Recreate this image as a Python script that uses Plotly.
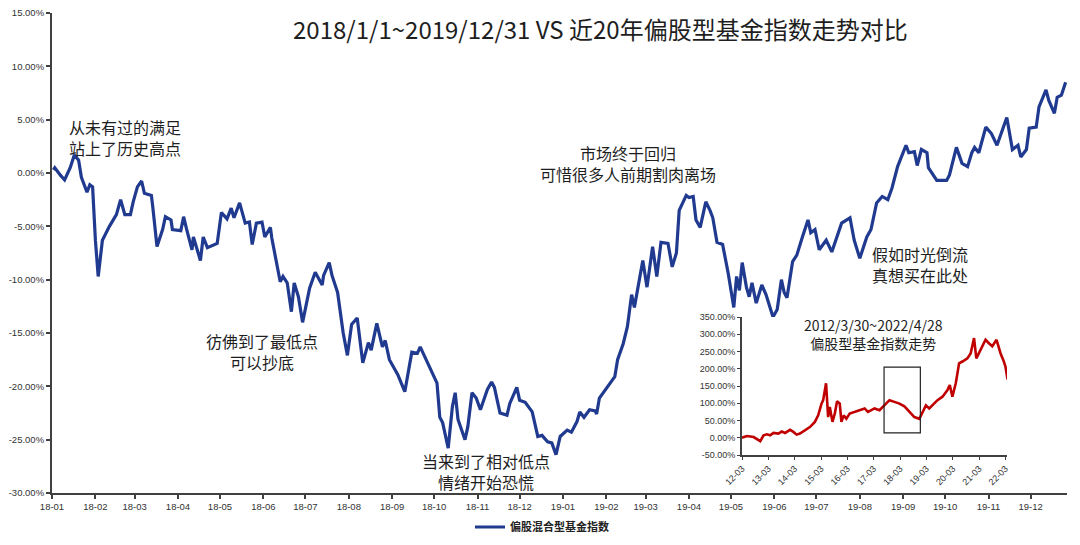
import plotly.graph_objects as go
import pandas as pd

# ---------------- data ----------------
main_dates = [
    "2018-01-02", "2018-01-03", "2018-01-07", "2018-01-10", "2018-01-14", "2018-01-17", "2018-01-20",
    "2018-01-22", "2018-01-26", "2018-01-28", "2018-01-30", "2018-02-01", "2018-02-03", "2018-02-06",
    "2018-02-11", "2018-02-16", "2018-02-19", "2018-02-22", "2018-02-26", "2018-02-28", "2018-03-03",
    "2018-03-06", "2018-03-08", "2018-03-13", "2018-03-14", "2018-03-17", "2018-03-21", "2018-03-23",
    "2018-03-27", "2018-03-28", "2018-04-03", "2018-04-05", "2018-04-07", "2018-04-11", "2018-04-12",
    "2018-04-17", "2018-04-19", "2018-04-22", "2018-04-29", "2018-05-02", "2018-05-06", "2018-05-09",
    "2018-05-11", "2018-05-15", "2018-05-19", "2018-05-22", "2018-05-24", "2018-05-27", "2018-05-31",
    "2018-06-02", "2018-06-06", "2018-06-07", "2018-06-13", "2018-06-15", "2018-06-18", "2018-06-21",
    "2018-06-23", "2018-06-26", "2018-06-29", "2018-07-03", "2018-07-04", "2018-07-08", "2018-07-13",
    "2018-07-14", "2018-07-18", "2018-07-20", "2018-07-24", "2018-07-28", "2018-07-31", "2018-08-03",
    "2018-08-07", "2018-08-11", "2018-08-15", "2018-08-17", "2018-08-21", "2018-08-25", "2018-08-27",
    "2018-08-30", "2018-09-05", "2018-09-10", "2018-09-15", "2018-09-19", "2018-09-21", "2018-10-03",
    "2018-10-05", "2018-10-07", "2018-10-11", "2018-10-14", "2018-10-16", "2018-10-18", "2018-10-23",
    "2018-10-25", "2018-10-28", "2018-10-31", "2018-11-03", "2018-11-08", "2018-11-11", "2018-11-13",
    "2018-11-17", "2018-11-22", "2018-11-24", "2018-11-29", "2018-12-01", "2018-12-05", "2018-12-10",
    "2018-12-14", "2018-12-17", "2018-12-21", "2018-12-24", "2018-12-27", "2018-12-30", "2019-01-04",
    "2019-01-07", "2019-01-11", "2019-01-13", "2019-01-16", "2019-01-20", "2019-01-24", "2019-01-25",
    "2019-01-27", "2019-02-03", "2019-02-07", "2019-02-09", "2019-02-13", "2019-02-16", "2019-02-19",
    "2019-02-21", "2019-02-23", "2019-02-27", "2019-03-02", "2019-03-04", "2019-03-06", "2019-03-09",
    "2019-03-12", "2019-03-17", "2019-03-20", "2019-03-23", "2019-03-25", "2019-03-30", "2019-04-01",
    "2019-04-04", "2019-04-06", "2019-04-09", "2019-04-13", "2019-04-16", "2019-04-18", "2019-04-21",
    "2019-04-25", "2019-04-29", "2019-05-01", "2019-05-03", "2019-05-05", "2019-05-07", "2019-05-09",
    "2019-05-12", "2019-05-14", "2019-05-16", "2019-05-19", "2019-05-23", "2019-05-26", "2019-05-31",
    "2019-06-03", "2019-06-06", "2019-06-08", "2019-06-10", "2019-06-14", "2019-06-17", "2019-06-21",
    "2019-06-25", "2019-06-27", "2019-06-30", "2019-07-03", "2019-07-08", "2019-07-12", "2019-07-19",
    "2019-07-25", "2019-07-28", "2019-08-01", "2019-08-06", "2019-08-09", "2019-08-13", "2019-08-17",
    "2019-08-21", "2019-08-24", "2019-08-28", "2019-09-03", "2019-09-05", "2019-09-09", "2019-09-11",
    "2019-09-14", "2019-09-18", "2019-09-19", "2019-09-25", "2019-10-02", "2019-10-04", "2019-10-09",
    "2019-10-13", "2019-10-17", "2019-10-20", "2019-10-22", "2019-10-25", "2019-10-30", "2019-11-03",
    "2019-11-07", "2019-11-10", "2019-11-14", "2019-11-18", "2019-11-22", "2019-11-24", "2019-11-28",
    "2019-11-30", "2019-12-05", "2019-12-07", "2019-12-12", "2019-12-14", "2019-12-18", "2019-12-20",
    "2019-12-23", "2019-12-26",
]
main_values = [  # percent
    0.3, 0.5, -0.2, -0.65, 0.5, 1.7, 1.2,
    -0.4, -1.8, -1.1, -1.3, -6.3, -9.7, -6.3,
    -5.0, -3.9, -2.5, -3.9, -3.9, -2.7, -1.3,
    -0.75, -1.9, -2.1, -3.2, -6.9, -5.3, -4.1,
    -4.4, -5.3, -5.4, -4.1, -5.2, -7.2, -6.0,
    -8.2, -6.0, -7.0, -6.6, -3.7, -4.3, -3.3,
    -4.2, -2.8, -4.7, -4.6, -6.7, -4.7, -4.6,
    -6.0, -5.1, -6.1, -10.2, -9.7, -10.3, -13.0,
    -10.3, -11.6, -14.0, -11.2, -10.8, -9.3, -10.5,
    -9.6, -8.4, -9.6, -11.2, -15.0, -17.1, -14.2,
    -13.6, -17.8, -15.9, -16.6, -14.1, -16.3, -15.7,
    -17.5, -18.9, -20.5, -16.8, -16.9, -16.3, -19.7,
    -22.9, -23.4, -25.8, -21.9, -20.6, -23.1, -25.0,
    -23.8, -20.6, -21.1, -22.2, -20.3, -19.6, -20.1,
    -22.5, -22.7, -21.6, -20.1, -21.3, -21.5, -22.4,
    -24.7, -24.6, -25.2, -25.3, -26.4, -24.7, -24.1,
    -24.3, -23.3, -22.4, -22.9, -22.2, -22.3, -22.6,
    -21.1, -19.9, -19.1, -17.5, -16.0, -14.4, -11.4,
    -12.6, -11.2, -8.2, -10.7, -8.8, -6.9, -9.7,
    -6.5, -6.6, -8.8, -7.5, -3.5, -2.1, -2.3,
    -2.2, -4.4, -5.1, -2.7, -3.5, -4.2, -6.5,
    -6.7, -9.4, -11.2, -12.6, -9.7, -11.0, -8.4,
    -10.7, -11.6, -10.3, -12.2, -10.5, -11.4, -13.5,
    -12.8, -10.0, -11.2, -11.7, -8.3, -7.7, -6.0,
    -4.4, -5.6, -5.3, -7.2, -6.3, -7.4, -4.7,
    -4.2, -6.3, -8.0, -6.0, -5.3, -2.8, -2.2,
    -2.5, -1.4, 0.6, 2.6, 1.9, 2.0, 0.7,
    2.2, 1.9, 0.5, -0.7, -0.7, -0.2, 2.4,
    0.9, 0.6, 1.9, 2.4, 1.9, 4.3, 3.7,
    2.6, 3.8, 5.2, 2.2, 2.6, 1.5, 2.2,
    4.2, 4.3, 6.2, 7.8, 6.8, 5.6, 7.1,
    7.3, 8.5,
]

inset_dates = [
    "2012-03-30", "2012-06-07", "2012-09-07", "2012-11-15", "2012-12-08", "2013-01-23", "2013-03-10",
    "2013-04-24", "2013-06-09", "2013-08-17", "2013-10-02", "2013-11-17", "2014-01-25", "2014-03-12",
    "2014-04-26", "2014-06-11", "2014-08-19", "2014-10-27", "2015-01-04", "2015-02-19", "2015-04-06",
    "2015-04-29", "2015-06-08", "2015-06-23", "2015-07-07", "2015-07-30", "2015-09-05", "2015-10-07",
    "2015-11-08", "2015-12-15", "2016-01-07", "2016-02-08", "2016-03-15", "2016-05-01", "2016-07-09",
    "2016-09-16", "2016-11-24", "2017-01-09", "2017-02-24", "2017-04-10", "2017-06-18", "2017-08-26",
    "2017-11-03", "2018-01-11", "2018-03-21", "2018-05-29", "2018-08-06", "2018-10-14", "2018-12-22",
    "2019-02-05", "2019-03-23", "2019-05-08", "2019-06-23", "2019-08-31", "2019-11-08", "2020-01-16",
    "2020-02-17", "2020-03-24", "2020-05-10", "2020-06-25", "2020-08-10", "2020-10-18", "2020-12-03",
    "2021-01-18", "2021-02-19", "2021-04-20", "2021-06-27", "2021-08-12", "2021-09-28", "2021-11-26",
    "2022-01-20", "2022-03-07", "2022-03-30", "2022-04-28",
]
inset_values = [  # percent
    0.2, 5, 2, -6, -10, 7, 10,
    7, 14, 12, 18, 14, 23, 17,
    9, 12, 21, 31, 46, 65, 99,
    109, 158, 80, 60, 89, 46, 70,
    106, 99, 46, 65, 55, 70, 75,
    80, 85, 75, 80, 85, 80, 94,
    109, 104, 99, 91, 75, 60, 55,
    75, 94, 85, 94, 109, 119, 138,
    153, 119, 158, 216, 221, 230, 245,
    289, 230, 255, 284, 274, 265, 284,
    245, 221, 206, 169,
]

series_name = "偏股混合型基金指数"
title_text = "2018/1/1~2019/12/31 VS 近20年偏股型基金指数走势对比"
inset_title = "2012/3/30~2022/4/28<br>偏股型基金指数走势"
notes = [
    "从未有过的满足<br>站上了历史高点",
    "彷佛到了最低点<br>可以抄底",
    "当来到了相对低点<br>情绪开始恐慌",
    "市场终于回归<br>可惜很多人前期割肉离场",
    "假如时光倒流<br>真想买在此处",
]

main_ytick_vals = [0.15, 0.10, 0.05, 0.0, -0.05, -0.10, -0.15, -0.20, -0.25, -0.30]
main_ytick_text = ["15.00%", "10.00%", "5.00%", "0.00%", "-5.00%", "-10.00%", "-15.00%",
                   "-20.00%", "-25.00%", "-30.00%"]
inset_ytick_vals = [3.5, 3.0, 2.5, 2.0, 1.5, 1.0, 0.5, 0.0, -0.5]
inset_ytick_text = ["350.00%", "300.00%", "250.00%", "200.00%", "150.00%", "100.00%",
                    "50.00%", "0.00%", "-50.00%"]

# ---------------- layout helpers ----------------
L, R, T, B = 52, 1067, 13, 493
W, H = 1080, 545


def PX(x):
    return (x - L) / (R - L)


def PY(y):
    return (B - y) / (B - T)


CJK = "Noto Sans CJK SC"
TICKF = "Liberation Sans, Arial, sans-serif"
AXC = "#404040"

month_ticks = list(pd.date_range("2018-01-01", "2019-12-01", freq="MS"))
inset_ticks = [pd.Timestamp(year=y, month=3, day=30) for y in range(2012, 2023)]

fig = go.Figure()
fig.add_trace(go.Scatter(
    x=main_dates, y=[v / 100 for v in main_values], mode="lines",
    line=dict(color="#203a90", width=3.2), name="<b>" + series_name + "</b>",
    xaxis="x", yaxis="y", showlegend=True,
))
fig.add_trace(go.Scatter(
    x=inset_dates, y=[v / 100 for v in inset_values], mode="lines",
    line=dict(color="#c00000", width=2.6), name="inset",
    xaxis="x2", yaxis="y2", showlegend=False,
))

fig.update_layout(
    width=W, height=H,
    margin=dict(l=L, r=W - R, t=T, b=H - B, pad=0, autoexpand=False),
    paper_bgcolor="white", plot_bgcolor="white",
    font=dict(family=CJK, color="#222"),
    xaxis=dict(
        type="date", range=["2018-01-01", "2019-12-27"], automargin=False,
        tickvals=month_ticks, tickformat="%y-%m",
        ticks="outside", ticklen=4, tickwidth=1.5, tickcolor=AXC,
        showline=True, linecolor=AXC, linewidth=2, showgrid=False, zeroline=False,
        tickfont=dict(family=TICKF, size=9.5, color="#333"),
    ),
    yaxis=dict(
        range=[-0.30, 0.15], tickvals=main_ytick_vals, ticktext=main_ytick_text, automargin=False,
        ticks="outside", ticklen=4, tickwidth=1.5, tickcolor=AXC,
        showline=True, linecolor=AXC, linewidth=2, showgrid=False, zeroline=False,
        tickfont=dict(family=TICKF, size=9.5, color="#333"),
    ),
    xaxis2=dict(
        domain=[PX(742), PX(1007)], anchor="y2", type="date", automargin=False,
        range=["2012-03-30", "2022-04-20"],
        tickvals=inset_ticks, tickformat="%y-%m", tickangle=-45,
        ticks="outside", ticklen=3, tickcolor=AXC,
        showline=True, linecolor=AXC, linewidth=2, showgrid=False, zeroline=False,
        tickfont=dict(family=TICKF, size=9, color="#333"),
    ),
    yaxis2=dict(
        domain=[PY(455), PY(317)], anchor="x2", automargin=False,
        range=[-0.5, 3.5], tickvals=inset_ytick_vals, ticktext=inset_ytick_text,
        ticks="outside", ticklen=3, tickcolor=AXC,
        showline=True, linecolor=AXC, linewidth=2, showgrid=False, zeroline=False,
        tickfont=dict(family=TICKF, size=9, color="#333"),
    ),
    legend=dict(
        orientation="h", x=PX(470), xanchor="left", y=PY(527), yanchor="middle",
        font=dict(family=CJK, size=11, color="#222"), itemwidth=30,
        bgcolor="rgba(0,0,0,0)",
    ),
    showlegend=True,
)

annots = [
    dict(text=title_text, x=PX(600), y=PY(28), size=24),
    dict(text=notes[0], x=PX(125), y=PY(137), size=16),
    dict(text=notes[1], x=PX(262), y=PY(351), size=16),
    dict(text=notes[2], x=PX(486), y=PY(471), size=16),
    dict(text=notes[3], x=PX(628), y=PY(163), size=16),
    dict(text=notes[4], x=PX(920), y=PY(264), size=16),
    dict(text=inset_title, x=PX(873), y=PY(334), size=14),
]
for a in annots:
    fig.add_annotation(
        text=a["text"], x=a["x"], y=a["y"], xref="paper", yref="paper",
        xanchor="center", yanchor="middle", showarrow=False, align="center",
        font=dict(family=CJK, size=a["size"], color="#1e1e1e"),
    )

fig.add_shape(
    type="rect", xref="x2", yref="y2",
    x0="2017-08-20", x1="2019-01-05", y0=0.14, y1=2.05,
    line=dict(color="#222", width=1.2), fillcolor="rgba(0,0,0,0)",
)

fig.write_html("out.html")
